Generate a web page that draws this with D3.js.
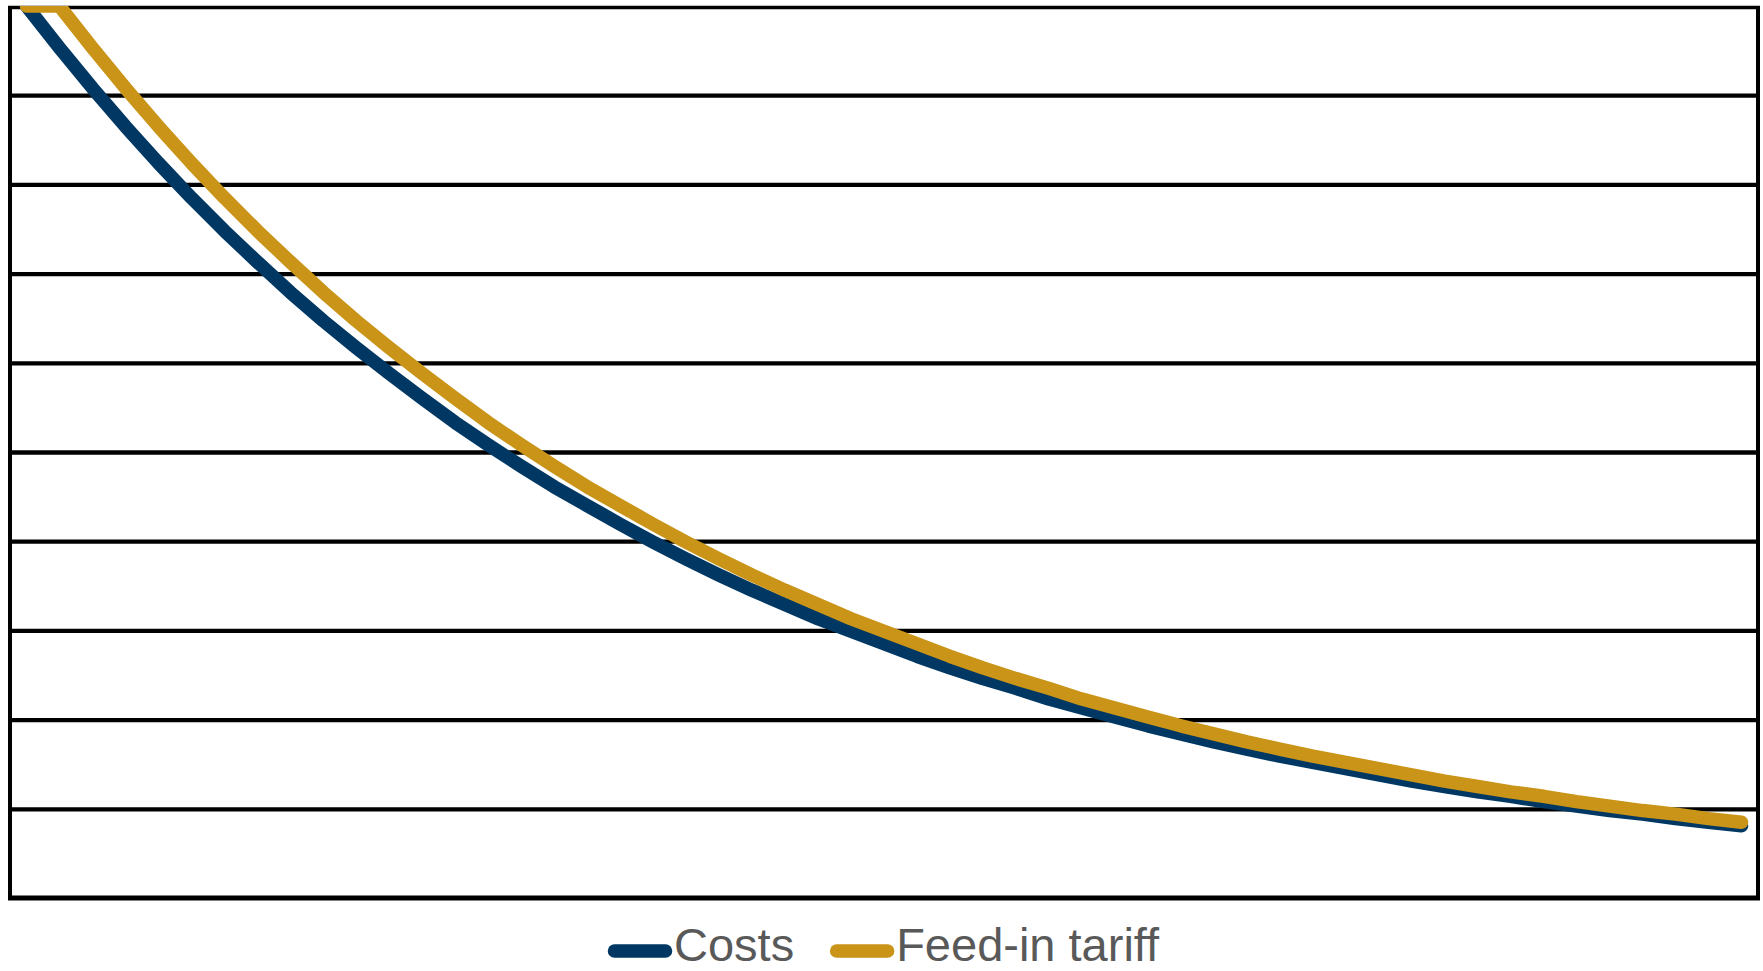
<!DOCTYPE html>
<html>
<head>
<meta charset="utf-8">
<script src="https://cdn.jsdelivr.net/npm/d3@7"></script>
<style>
  html, body { margin: 0; padding: 0; background: #ffffff; }
  svg { display: block; }
</style>
</head>
<body>
<svg id="chart" width="1763" height="971"></svg>
<script>
// ---- data (y axis has no labels, arbitrary 0-100 scale) ----
const periods = [1,2,3,4,5,6,7,8,9,10,11,12,13,14,15,16,17,18,19,20,21,22,23,24,25,26,27,28,29,30,
  31,32,33,34,35,36,37,38,39,40,41,42,43,44,45,46,47,48,49,50,51,52,53];
const costs = [100, 95.3, 90.8, 86.5, 82.4, 78.5, 74.8, 71.3, 67.9, 64.7, 61.7, 58.8, 56.0, 53.3,
  50.8, 48.4, 46.1, 44.0, 41.9, 39.9, 38.0, 36.2, 34.5, 32.9, 31.3, 29.9, 28.5, 27.1, 25.8, 24.6,
  23.5, 22.3, 21.3, 20.3, 19.3, 18.4, 17.5, 16.7, 15.9, 15.2, 14.5, 13.8, 13.1, 12.5, 11.9, 11.4,
  10.8, 10.3, 9.8, 9.4, 8.9, 8.5, 8.1];
const feedInTariff = [100, 100, 95.3, 90.8, 86.5, 82.4, 78.5, 74.8, 71.3, 67.9, 64.7, 61.7, 58.8,
  56.0, 53.3, 50.8, 48.4, 46.1, 44.0, 41.9, 39.9, 38.0, 36.2, 34.5, 32.9, 31.3, 29.9, 28.5, 27.1,
  25.8, 24.6, 23.5, 22.3, 21.3, 20.3, 19.3, 18.4, 17.5, 16.7, 15.9, 15.2, 14.5, 13.8, 13.1, 12.5,
  11.9, 11.4, 10.8, 10.3, 9.8, 9.4, 8.9, 8.5];
const yTicks = [0, 10, 20, 30, 40, 50, 60, 70, 80, 90, 100];
const seriesNames = ["Costs", "Feed-in tariff"];
const seriesColors = ["#003863", "#C99417"];

// ---- layout ----
const svg = d3.select("#chart");
const plot = { left: 10, right: 1758, top: 6, bottom: 898 };

const x = d3.scalePoint().domain(periods).range([plot.left, plot.right]).padding(0.5);
const y = d3.scaleLinear().domain([0, 100]).range([plot.bottom, plot.top]);

// gridlines via axis
const grid = svg.append("g")
  .attr("transform", `translate(${plot.left},0)`)
  .call(d3.axisLeft(y).tickValues(yTicks.slice(1, -1)).tickSize(-(plot.right - plot.left)).tickFormat(""));
grid.select(".domain").remove();
grid.selectAll(".tick line").attr("stroke", "#000").attr("stroke-width", 4.3);

// frame
const frame = svg.append("g").attr("stroke", "#000").attr("fill", "none");
frame.append("line").attr("x1", plot.left - 2).attr("x2", plot.right + 2).attr("y1", 7.5).attr("y2", 7.5).attr("stroke-width", 3.5);
frame.append("line").attr("x1", plot.left - 2).attr("x2", plot.right + 2).attr("y1", 898).attr("y2", 898).attr("stroke-width", 5);
frame.append("line").attr("x1", plot.left).attr("x2", plot.left).attr("y1", 6).attr("y2", 900).attr("stroke-width", 4);
frame.append("line").attr("x1", plot.right).attr("x2", plot.right).attr("y1", 6).attr("y2", 900).attr("stroke-width", 4);

// clip for series
svg.append("clipPath").attr("id", "plotclip")
  .append("rect").attr("x", 0).attr("y", plot.top).attr("width", 1763).attr("height", plot.bottom - plot.top + 10);

const line = d3.line()
  .x((d, i) => x(periods[i]))
  .y(d => y(Math.min(d, 100)));

const lines = svg.append("g").attr("clip-path", "url(#plotclip)");
[costs, feedInTariff].forEach((s, k) => {
  lines.append("path")
    .datum(s)
    .attr("d", line)
    .attr("fill", "none")
    .attr("stroke", seriesColors[k])
    .attr("stroke-width", 13.5)
    .attr("stroke-linejoin", "round")
    .attr("stroke-linecap", "round");
});

// legend
const legend = svg.append("g");
let lx = 608;
const ly = 951;
seriesNames.forEach((name, k) => {
  legend.append("line")
    .attr("x1", lx + 6.5).attr("x2", lx + 57.5)
    .attr("y1", ly).attr("y2", ly)
    .attr("stroke", seriesColors[k]).attr("stroke-width", 13.5).attr("stroke-linecap", "round");
  const t = legend.append("text")
    .attr("x", lx + 66).attr("y", 961)
    .attr("font-family", "'Liberation Sans', Arial, sans-serif")
    .attr("font-size", 47)
    .attr("fill", "#595959")
    .text(name);
  lx = lx + 66 + t.node().getComputedTextLength() + 36;
});
</script>
</body>
</html>
